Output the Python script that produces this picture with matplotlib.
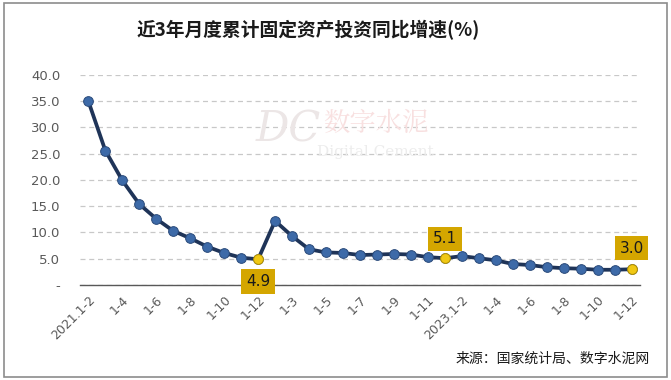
import numpy as np
import matplotlib.pyplot as plt
from matplotlib.patches import Rectangle

plt.rcParams['font.family'] = ['Noto Sans CJK SC', 'DejaVu Sans']

months = ['1-2', '1-3', '1-4', '1-5', '1-6', '1-7', '1-8', '1-9', '1-10', '1-11', '1-12']
periods = ['2021.' + m if m == '1-2' else m for m in months] + \
          months + \
          ['2023.' + m if m == '1-2' else m for m in months]
values = [35.0, 25.6, 19.9, 15.4, 12.6, 10.3, 8.9, 7.3, 6.1, 5.2, 4.9,
          12.2, 9.3, 6.8, 6.2, 6.1, 5.7, 5.8, 5.9, 5.8, 5.3, 5.1,
          5.5, 5.1, 4.7, 4.0, 3.8, 3.4, 3.2, 3.1, 2.9, 2.9, 3.0]
highlight = [10, 21, 32]
yticks = [0, 5, 10, 15, 20, 25, 30, 35, 40]

x = np.arange(len(values))

fig = plt.figure(figsize=(6.71, 3.80), dpi=100)
ax = fig.add_axes([0.119, 0.25, 0.835, 0.553])

# outer frame
fig.patches.append(Rectangle((0.006, 0.008), 0.988, 0.984, transform=fig.transFigure,
                             fill=False, edgecolor='#8c8c8c', linewidth=1.2))

ax.plot(x, values, color='#1f3458', linewidth=2.7, zorder=2, solid_capstyle='round')
ax.plot(x, values, 'o', markersize=7, markerfacecolor='#3d6aa8',
        markeredgecolor='#2a4a7a', markeredgewidth=0.7, zorder=3)
ax.plot(x[highlight], [values[i] for i in highlight], 'o', markersize=7,
        markerfacecolor='#f0c814', markeredgecolor='#b89400', markeredgewidth=0.7, zorder=4)

# label boxes
offsets = {10: -16, 21: 14, 32: 15}
for i in highlight:
    ax.annotate(f'{values[i]:.1f}', (x[i], values[i]), xytext=(0, offsets[i]),
                textcoords='offset points', ha='center', va='center', fontsize=11,
                color='#1a1a1a', family=['DejaVu Sans'],
                bbox=dict(boxstyle='square,pad=0.3', facecolor='#d4a600', edgecolor='none'),
                zorder=5, annotation_clip=False)

ax.set_xlim(-0.5, len(values) - 0.5)
ax.set_ylim(0, 40)
ax.set_yticks(yticks)
ax.set_yticklabels(['-'] + [f'{v:.1f}' for v in yticks[1:]], fontsize=9.5, color='#595959',
                   family=['DejaVu Sans'])
ax.set_xticks(x[::2])
ax.set_xticklabels(periods[::2], rotation=45, ha='right', rotation_mode='anchor',
                   fontsize=9, color='#595959', family=['DejaVu Sans'])
ax.tick_params(axis='y', length=0, pad=14)
ax.tick_params(axis='x', length=0, pad=6)

ax.yaxis.grid(True, linestyle=(0, (4, 3)), color='#c8c8c8', linewidth=0.9)
ax.set_axisbelow(True)
for s in ['top', 'right', 'left']:
    ax.spines[s].set_visible(False)
ax.spines['bottom'].set_color('#595959')
ax.spines['bottom'].set_linewidth(1.0)

# watermark
fig.text(0.43, 0.66, 'DC', fontsize=30, color='#ece6e6', family=['DejaVu Serif'],
         ha='center', va='center', style='italic')
fig.text(0.56, 0.675, '数字水泥', fontsize=19, color='#f8e0e0', ha='center', va='center',
         family=['Noto Serif CJK SC', 'Noto Sans CJK SC'])
fig.text(0.56, 0.60, 'Digital Cement', fontsize=11, color='#ececec', ha='center', va='center',
         family=['DejaVu Serif'])

fig.text(0.46, 0.92, '近3年月度累计固定资产投资同比增速(%)', fontsize=13.5, fontweight='bold',
         ha='center', va='center', color='#1a1a1a')
fig.text(0.968, 0.055, '来源：国家统计局、数字水泥网', fontsize=10, ha='right', va='center',
         color='#1a1a1a')

plt.savefig('out.png', dpi=100)
